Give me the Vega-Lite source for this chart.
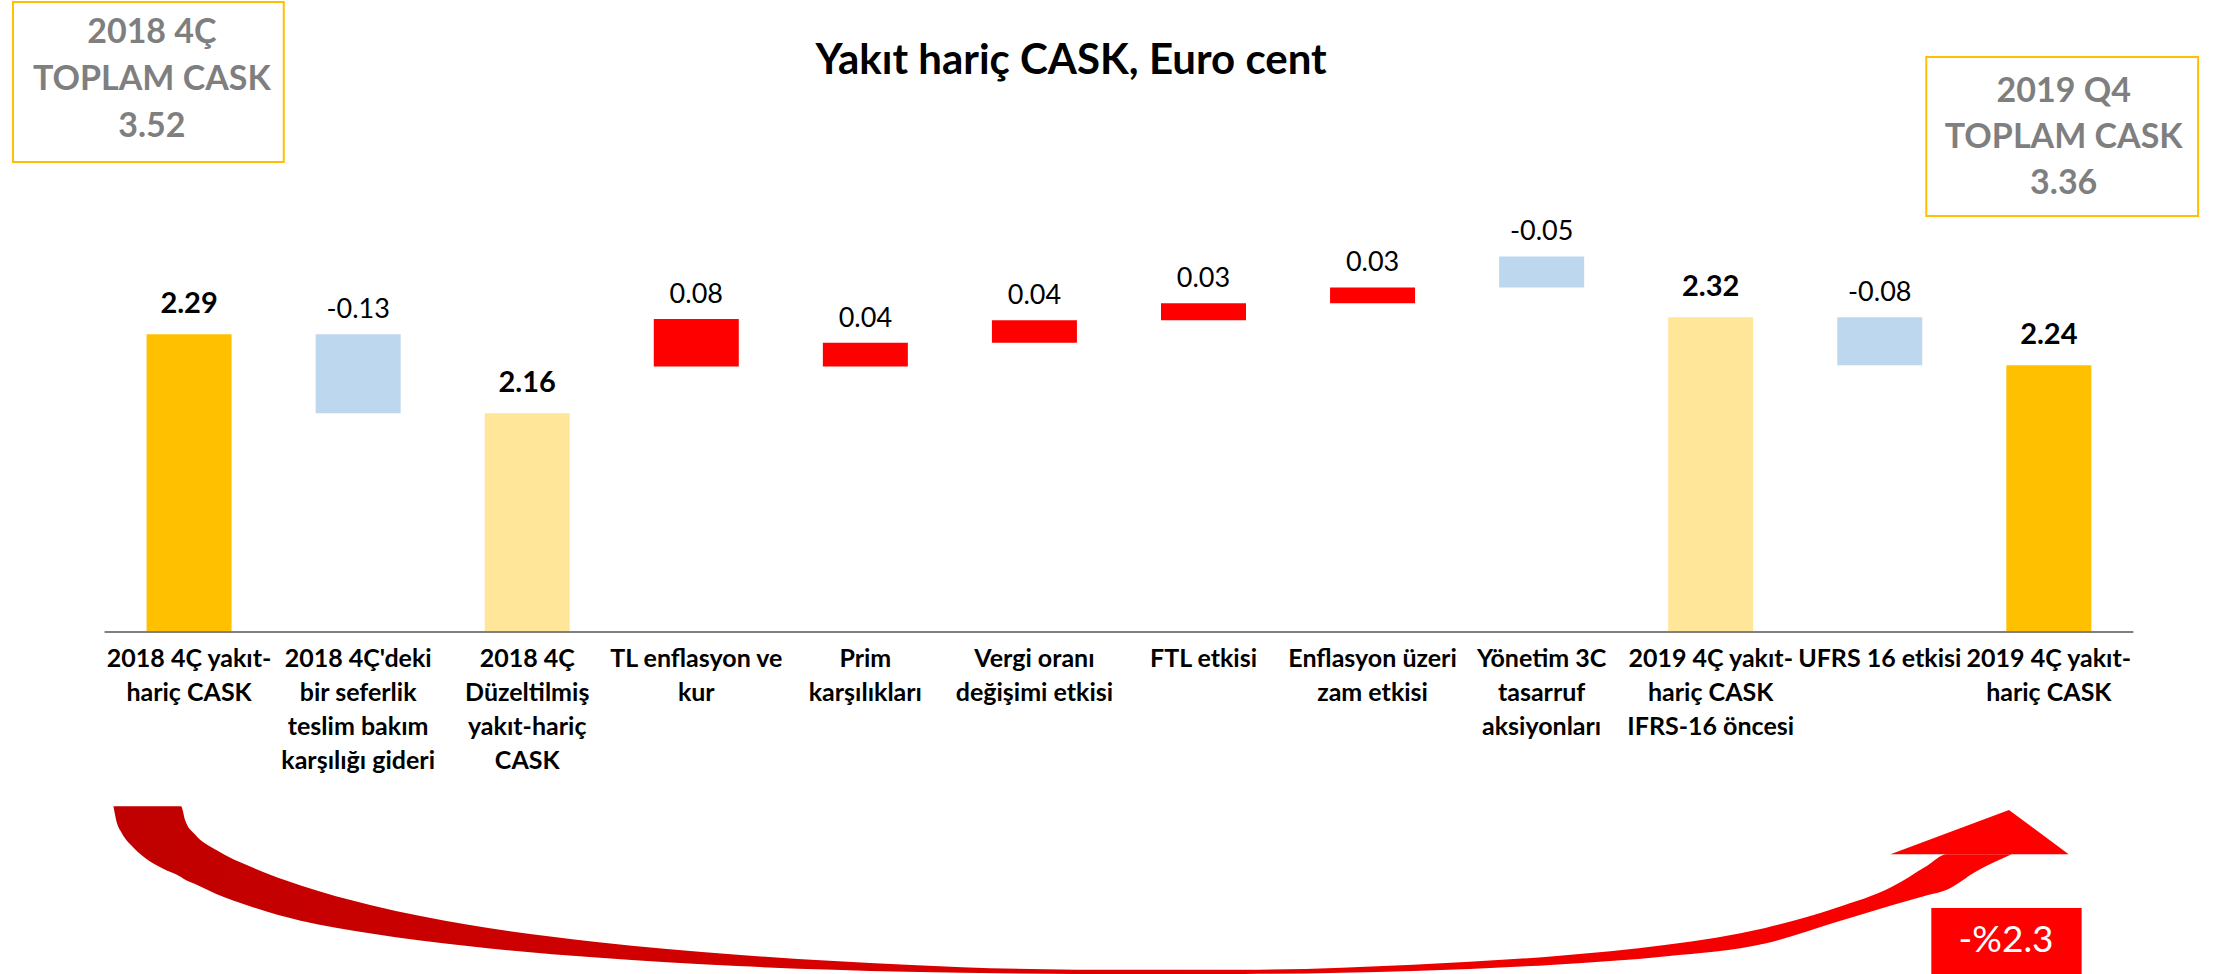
{
  "$schema": "https://vega.github.io/schema/vega-lite/v6.json",
  "width": 2218,
  "height": 974,
  "padding": 0,
  "autosize": {"type": "none"},
  "background": "white",
  "config": {"view": {"stroke": null}, "font": "Lato"},
  "data": {
    "values": [
      {"cat": "2018 4Ç yakıt-\nhariç CASK", "pos": 0.5, "lo": 1.8, "hi": 2.29, "kind": "total", "label": "2.29", "bold": true},
      {"cat": "2018 4Ç'deki\nbir seferlik\nteslim bakım\nkarşılığı gideri", "pos": 1.5, "lo": 2.16, "hi": 2.29, "kind": "dec", "label": "-0.13", "bold": false},
      {"cat": "2018 4Ç\nDüzeltilmiş\nyakıt-hariç\nCASK", "pos": 2.5, "lo": 1.8, "hi": 2.16, "kind": "sub", "label": "2.16", "bold": true},
      {"cat": "TL enflasyon ve\nkur", "pos": 3.5, "lo": 2.237, "hi": 2.315, "kind": "inc", "label": "0.08", "bold": false},
      {"cat": "Prim\nkarşılıkları", "pos": 4.5, "lo": 2.237, "hi": 2.276, "kind": "inc", "label": "0.04", "bold": false},
      {"cat": "Vergi oranı\ndeğişimi etkisi", "pos": 5.5, "lo": 2.276, "hi": 2.313, "kind": "inc", "label": "0.04", "bold": false},
      {"cat": "FTL etkisi", "pos": 6.5, "lo": 2.313, "hi": 2.341, "kind": "inc", "label": "0.03", "bold": false},
      {"cat": "Enflasyon üzeri\nzam etkisi", "pos": 7.5, "lo": 2.341, "hi": 2.367, "kind": "inc", "label": "0.03", "bold": false},
      {"cat": "Yönetim 3C\ntasarruf\naksiyonları", "pos": 8.5, "lo": 2.367, "hi": 2.418, "kind": "dec", "label": "-0.05", "bold": false},
      {"cat": "2019 4Ç yakıt-\nhariç CASK\nIFRS-16 öncesi", "pos": 9.5, "lo": 1.8, "hi": 2.318, "kind": "sub", "label": "2.32", "bold": true},
      {"cat": "UFRS 16 etkisi", "pos": 10.5, "lo": 2.239, "hi": 2.318, "kind": "dec", "label": "-0.08", "bold": false},
      {"cat": "2019 4Ç yakıt-\nhariç CASK", "pos": 11.5, "lo": 1.8, "hi": 2.239, "kind": "total", "label": "2.24", "bold": true}
    ]
  },
  "layer": [
    {
      "mark": {"type": "bar", "width": 85},
      "encoding": {
        "x": {"field": "pos", "type": "quantitative", "scale": {"domain": [-0.5888, 12.471], "nice": false, "zero": false},
          "axis": {"values": [0,1,2,3,4,5,6,7,8,9,10,11,12], "labels": false, "domain": false, "grid": false, "ticks": true, "tickSize": 9, "tickColor": "#808080", "tickWidth": 1.5, "offset": -342, "title": null}},
        "y": {"field": "lo", "type": "quantitative", "scale": {"domain": [1.2372, 2.84], "nice": false, "zero": false}, "axis": null},
        "y2": {"field": "hi"},
        "color": {"field": "kind", "type": "nominal", "scale": {"domain": ["total", "sub", "inc", "dec"], "range": ["#FFC000", "#FFE699", "#FF0000", "#BDD7EE"]}, "legend": null}
      }
    },
    {
      "data": {"values": [{}]},
      "mark": {"type": "rule", "color": "#808080", "strokeWidth": 2},
      "encoding": {
        "x": {"datum": 0, "type": "quantitative", "scale": {"domain": [-0.5888, 12.471], "nice": false, "zero": false}, "axis": null},
        "x2": {"datum": 12},
        "y": {"datum": 1.8, "type": "quantitative", "scale": {"domain": [1.2372, 2.84], "nice": false, "zero": false}, "axis": null}
      }
    },
    {
      "mark": {"type": "text", "font": "Lato", "fontSize": 25, "fontWeight": "bold", "baseline": "top", "align": "center", "dy": 15, "lineBreak": "\n", "lineHeight": 34, "color": "#000000"},
      "encoding": {
        "x": {"field": "pos", "type": "quantitative", "scale": {"domain": [-0.5888, 12.471], "nice": false, "zero": false}, "axis": null},
        "y": {"datum": 1.8, "type": "quantitative", "scale": {"domain": [1.2372, 2.84], "nice": false, "zero": false}, "axis": null},
        "text": {"field": "cat"}
      }
    },
    {
      "transform": [{"filter": "datum.bold"}],
      "mark": {"type": "text", "font": "Lato", "fontSize": 29, "fontWeight": "bold", "baseline": "middle", "align": "center", "dy": -30, "color": "#000000"},
      "encoding": {
        "x": {"field": "pos", "type": "quantitative", "scale": {"domain": [-0.5888, 12.471], "nice": false, "zero": false}, "axis": null},
        "y": {"field": "hi", "type": "quantitative", "scale": {"domain": [1.2372, 2.84], "nice": false, "zero": false}, "axis": null},
        "text": {"field": "label"}
      }
    },
    {
      "transform": [{"filter": "!datum.bold"}],
      "mark": {"type": "text", "font": "Lato", "fontSize": 27, "fontWeight": "normal", "baseline": "middle", "align": "center", "dy": -24, "color": "#000000"},
      "encoding": {
        "x": {"field": "pos", "type": "quantitative", "scale": {"domain": [-0.5888, 12.471], "nice": false, "zero": false}, "axis": null},
        "y": {"field": "hi", "type": "quantitative", "scale": {"domain": [1.2372, 2.84], "nice": false, "zero": false}, "axis": null},
        "text": {"field": "label"}
      }
    },
    {
      "data": {"values": [{}]},
      "mark": {"type": "text", "font": "Lato", "fontSize": 42, "fontWeight": "bold", "baseline": "middle", "align": "center", "color": "#000000", "text": "Yakıt hariç CASK, Euro cent"},
      "encoding": {
        "x": {"datum": 5.717, "type": "quantitative", "scale": {"domain": [-0.5888, 12.471], "nice": false, "zero": false}, "axis": null},
        "y": {"datum": 2.7396, "type": "quantitative", "scale": {"domain": [1.2372, 2.84], "nice": false, "zero": false}, "axis": null}
      }
    },
    {
      "data": {"values": [{}]},
      "mark": {"type": "rect", "fill": "#FFFFFF", "stroke": "#FFC000", "strokeWidth": 2},
      "encoding": {
        "x": {"datum": -0.5417, "type": "quantitative", "scale": {"domain": [-0.5888, 12.471], "nice": false, "zero": false}, "axis": null},
        "x2": {"datum": 1.06},
        "y": {"datum": 2.8367, "type": "quantitative", "scale": {"domain": [1.2372, 2.84], "nice": false, "zero": false}, "axis": null},
        "y2": {"datum": 2.5734}
      }
    },
    {
      "data": {"values": [{}]},
      "mark": {"type": "text", "font": "Lato", "fontSize": 34, "fontWeight": "bold", "baseline": "middle", "align": "center", "color": "#7F7F7F", "lineBreak": "\n", "lineHeight": 47, "text": "2018 4Ç\nTOPLAM CASK\n3.52"},
      "encoding": {
        "x": {"datum": 0.28, "type": "quantitative", "scale": {"domain": [-0.5888, 12.471], "nice": false, "zero": false}, "axis": null},
        "y": {"datum": 2.7857, "type": "quantitative", "scale": {"domain": [1.2372, 2.84], "nice": false, "zero": false}, "axis": null}
      }
    },
    {
      "data": {"values": [{}]},
      "mark": {"type": "rect", "fill": "#FFFFFF", "stroke": "#FFC000", "strokeWidth": 2},
      "encoding": {
        "x": {"datum": 10.775, "type": "quantitative", "scale": {"domain": [-0.5888, 12.471], "nice": false, "zero": false}, "axis": null},
        "x2": {"datum": 12.383},
        "y": {"datum": 2.7462, "type": "quantitative", "scale": {"domain": [1.2372, 2.84], "nice": false, "zero": false}, "axis": null},
        "y2": {"datum": 2.4846}
      }
    },
    {
      "data": {"values": [{}]},
      "mark": {"type": "text", "font": "Lato", "fontSize": 34, "fontWeight": "bold", "baseline": "middle", "align": "center", "color": "#7F7F7F", "lineBreak": "\n", "lineHeight": 46, "text": "2019 Q4\nTOPLAM CASK\n3.36"},
      "encoding": {
        "x": {"datum": 11.588, "type": "quantitative", "scale": {"domain": [-0.5888, 12.471], "nice": false, "zero": false}, "axis": null},
        "y": {"datum": 2.6886, "type": "quantitative", "scale": {"domain": [1.2372, 2.84], "nice": false, "zero": false}, "axis": null}
      }
    },
    {
      "data": {"values": [
        {"u": 0.0525, "top": 1.5133, "bot": 1.5133},
        {"u": 0.0692, "top": 1.5133, "bot": 1.49},
        {"u": 0.1025, "top": 1.5133, "bot": 1.469},
        {"u": 0.1608, "top": 1.5133, "bot": 1.4481},
        {"u": 0.2441, "top": 1.5133, "bot": 1.4271},
        {"u": 0.344, "top": 1.5133, "bot": 1.4109},
        {"u": 0.4523, "top": 1.5133, "bot": 1.3969},
        {"u": 0.4773, "top": 1.49, "bot": 1.3922},
        {"u": 0.5356, "top": 1.4667, "bot": 1.3852},
        {"u": 0.6606, "top": 1.4411, "bot": 1.369},
        {"u": 0.8688, "top": 1.4132, "bot": 1.348},
        {"u": 1.1603, "top": 1.3829, "bot": 1.3247},
        {"u": 1.5767, "top": 1.3503, "bot": 1.3038},
        {"u": 2.1598, "top": 1.3178, "bot": 1.2828},
        {"u": 2.9094, "top": 1.2898, "bot": 1.2642},
        {"u": 3.7423, "top": 1.2689, "bot": 1.2502},
        {"u": 4.7418, "top": 1.2526, "bot": 1.2409},
        {"u": 5.7412, "top": 1.2444, "bot": 1.2374},
        {"u": 6.7407, "top": 1.2444, "bot": 1.2374},
        {"u": 7.7402, "top": 1.2526, "bot": 1.2421},
        {"u": 8.5731, "top": 1.2665, "bot": 1.2526},
        {"u": 9.2394, "top": 1.2852, "bot": 1.2665},
        {"u": 9.8225, "top": 1.3131, "bot": 1.2875},
        {"u": 10.2389, "top": 1.3457, "bot": 1.3224},
        {"u": 10.5721, "top": 1.3806, "bot": 1.3503},
        {"u": 10.7803, "top": 1.4155, "bot": 1.3666},
        {"u": 10.8969, "top": 1.4341, "bot": 1.3759},
        {"u": 11.0718, "top": 1.4341, "bot": 1.4062},
        {"u": 11.28, "top": 1.4341, "bot": 1.4341}
      ]},
      "mark": {"type": "area", "interpolate": "monotone", "color": {"gradient": "linear", "x1": 0, "y1": 0, "x2": 1, "y2": 0, "stops": [{"offset": 0, "color": "#C00000"}, {"offset": 0.5, "color": "#DD0000"}, {"offset": 1, "color": "#FF0000"}]}},
      "encoding": {
        "x": {"field": "u", "type": "quantitative", "scale": {"domain": [-0.5888, 12.471], "nice": false, "zero": false}, "axis": null},
        "y": {"field": "top", "type": "quantitative", "scale": {"domain": [1.2372, 2.84], "nice": false, "zero": false}, "axis": null},
        "y2": {"field": "bot"}
      }
    },
    {
      "data": {"values": [
        {"u": 10.5635, "v": 1.4341, "v2": 1.4341},
        {"u": 11.2642, "v": 1.5071, "v2": 1.4341},
        {"u": 11.6175, "v": 1.4341, "v2": 1.4341}
      ]},
      "mark": {"type": "area", "color": "#FF0000", "interpolate": "linear"},
      "encoding": {
        "x": {"field": "u", "type": "quantitative", "scale": {"domain": [-0.5888, 12.471], "nice": false, "zero": false}, "axis": null},
        "y": {"field": "v", "type": "quantitative", "scale": {"domain": [1.2372, 2.84], "nice": false, "zero": false}, "axis": null},
        "y2": {"field": "v2"}
      }
    },
    {
      "data": {"values": [{}]},
      "mark": {"type": "rect", "fill": "#FF0000"},
      "encoding": {
        "x": {"datum": 10.805, "type": "quantitative", "scale": {"domain": [-0.5888, 12.471], "nice": false, "zero": false}, "axis": null},
        "x2": {"datum": 11.694},
        "y": {"datum": 1.3458, "type": "quantitative", "scale": {"domain": [1.2372, 2.84], "nice": false, "zero": false}, "axis": null},
        "y2": {"datum": 1.2372}
      }
    },
    {
      "data": {"values": [{}]},
      "mark": {"type": "text", "font": "Lato", "fontSize": 37, "fontWeight": "normal", "baseline": "middle", "align": "center", "color": "#FFFFFF", "text": "-%2.3"},
      "encoding": {
        "x": {"datum": 11.247, "type": "quantitative", "scale": {"domain": [-0.5888, 12.471], "nice": false, "zero": false}, "axis": null},
        "y": {"datum": 1.2915, "type": "quantitative", "scale": {"domain": [1.2372, 2.84], "nice": false, "zero": false}, "axis": null}
      }
    }
  ]
}
